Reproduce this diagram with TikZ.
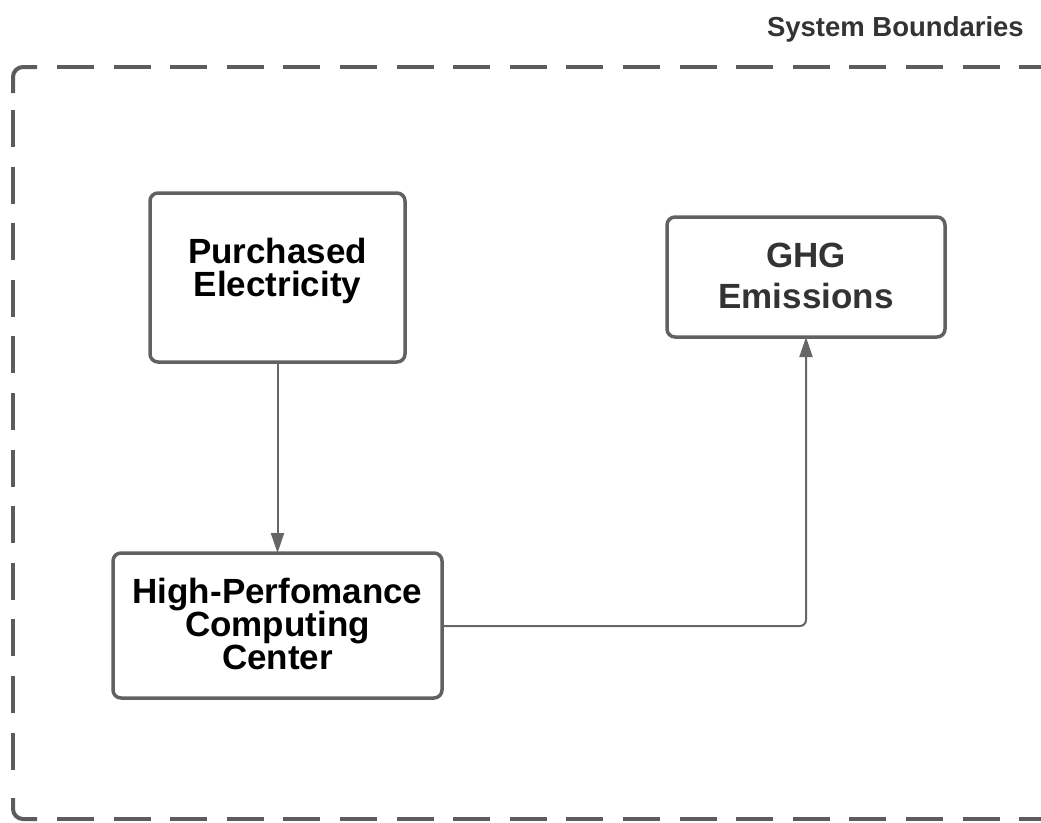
\documentclass[tikz,border=0pt]{standalone}
\usepackage{fontspec}
\setmainfont{Liberation Sans}
\usetikzlibrary{arrows.meta}
\definecolor{bdgray}{HTML}{5C5C5C}
\definecolor{boxgray}{HTML}{616161}
\definecolor{linegray}{HTML}{666666}
\definecolor{txtdark}{HTML}{333333}
\tikzset{
  bd/.style={draw=bdgray, line width=4pt},
  bddash/.style={bd, dash pattern=on 37pt off 19.6pt},
  procbox/.style={draw=boxgray, line width=3.5pt, rounded corners=8pt, fill=white},
  boxtext/.style={font=\bfseries\fontsize{35}{33}\selectfont, align=center, inner sep=0pt},
  conn/.style={draw=linegray, line width=2pt, -{Triangle[width=13pt,length=20pt]}}
}
\begin{document}
\begin{tikzpicture}[x=1pt,y=-1pt]
\useasboundingbox (0,0) rectangle (1041,822);
\begin{scope}
\clip (0,0) rectangle (1041,822);
% system boundary
\draw[bd, rounded corners=10pt] (13,93) -- (13,67) -- (37,67);
\draw[bddash] (57,67) -- (1070,67);
\draw[bddash] (13,110) -- (13,782);
\draw[bd, rounded corners=10pt] (13,798) -- (13,819) -- (37,819);
\draw[bddash] (57,819) -- (1070,819);
\end{scope}
\node[anchor=base east, font=\bfseries\fontsize{27.5}{30}\selectfont, text=txtdark, inner sep=0pt] (sb) at (1024,36) {System Boundaries};

% boxes
\draw[procbox] (150,193) rectangle (405,362);
\node[boxtext] (pe) at (277.5,271) {Purchased\\Electricity};
\coordinate (peb) at (277.5,362);

\draw[procbox] (667,217) rectangle (945,337);
\node[boxtext, text=txtdark, font=\bfseries\fontsize{35}{41}\selectfont] (ghg) at (806,276) {GHG\\Emissions};
\coordinate (ghgb) at (806,337);

\draw[procbox] (113,553) rectangle (442,698);
\node[boxtext] (hpc) at (277.5,624) {High-Perfomance\\Computing\\Center};
\coordinate (hpct) at (277.5,553);
\coordinate (hpcr) at (442,626);

% connectors
\draw[conn] (peb) -- (hpct);
\draw[conn, rounded corners=6pt] (hpcr) -- (806,626) -- (ghgb);
\end{tikzpicture}
\end{document}
